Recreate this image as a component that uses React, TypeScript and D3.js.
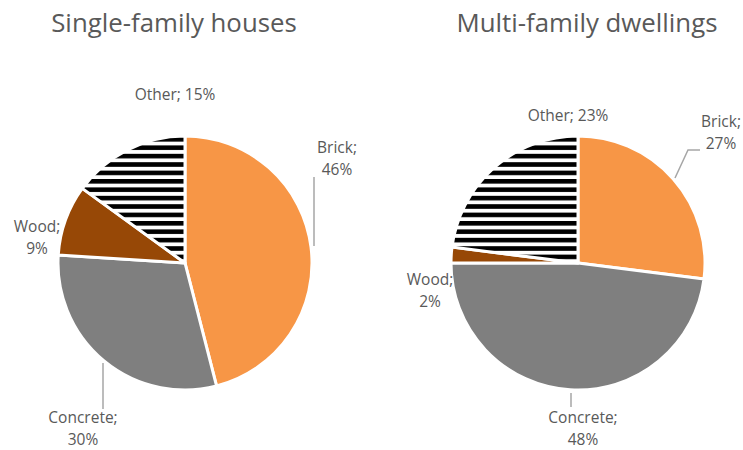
import React from "react";
import * as d3 from "d3";

const categories = ["Brick", "Concrete", "Wood", "Other"];
const singleFamily = [46, 30, 9, 15];
const multiFamily = [27, 48, 2, 23];
const titles = ["Single-family houses", "Multi-family dwellings"];

const colors: Record<string, string> = {
  Brick: "#F79646",
  Concrete: "#7F7F7F",
  Wood: "#974806",
  Other: "url(#stripes)",
};

const W = 743;
const H = 450;
const R = 127;

type LabelLayout = {
  x: number;
  y: number;
  twoLine: boolean;
  leader?: [number, number][];
};

// label layout relative to pie centre
const leftLayout: LabelLayout[] = [
  { x: 152, y: -110, twoLine: true, leader: [[129, -86], [129, -17]] },
  { x: -102, y: 160, twoLine: true, leader: [[-82, 100], [-82, 146]] },
  { x: -148, y: -31, twoLine: true },
  { x: -10, y: -163, twoLine: false },
];
const rightLayout: LabelLayout[] = [
  { x: 143, y: -136, twoLine: true, leader: [[97, -85], [110, -113], [122, -113]] },
  { x: 5, y: 160, twoLine: true, leader: [[-7, 130], [-7, 144]] },
  { x: -148, y: 22, twoLine: true },
  { x: -10, y: -142, twoLine: false },
];

const pies = [
  { title: titles[0], values: singleFamily, cx: 185, cy: 263, titleX: 174, layout: leftLayout },
  { title: titles[1], values: multiFamily, cx: 578, cy: 263, titleX: 587, layout: rightLayout },
];

const textColor = "#595959";
const fontFamily = "'Open Sans', sans-serif";
const labelSize = 15.5;

export default function App() {
  const pie = d3
    .pie<number>()
    .sort(null)
    .value((d) => d)
    .startAngle(0)
    .endAngle(2 * Math.PI);
  const arc = d3.arc<d3.PieArcDatum<number>>().innerRadius(0).outerRadius(R);

  return (
    <svg width={W} height={H} style={{ position: "absolute", left: 0, top: 0, background: "#fff" }}>
      <defs>
        <pattern id="stripes" patternUnits="userSpaceOnUse" width={8} height={8.4}>
          <rect x={0} y={0} width={8} height={8.4} fill="#fff" />
          <rect x={0} y={0} width={8} height={4.6} fill="#000" />
        </pattern>
      </defs>
      {pies.map((p, pi) => {
        const arcs = pie(p.values);
        return (
          <g key={pi}>
            <text
              x={p.titleX}
              y={32}
              textAnchor="middle"
              fontFamily={fontFamily}
              fontSize={25.8}
              fill={textColor}
            >
              {p.title}
            </text>
            <g transform={`translate(${p.cx},${p.cy})`}>
              {arcs.map((a, i) => (
                <path
                  key={i}
                  d={arc(a) || ""}
                  fill={colors[categories[i]]}
                  stroke="#fff"
                  strokeWidth={3}
                  strokeLinejoin="round"
                />
              ))}
              {arcs.map((a, i) => {
                const L = p.layout[i];
                const label = categories[i];
                const pct = `${p.values[i]}%`;
                return (
                  <g key={"l" + i}>
                    {L.leader && (
                      <polyline
                        points={L.leader.map((q) => q.join(",")).join(" ")}
                        fill="none"
                        stroke="#A6A6A6"
                        strokeWidth={1.5}
                      />
                    )}
                    {L.twoLine ? (
                      <text
                        textAnchor="middle"
                        fontFamily={fontFamily}
                        fontSize={labelSize}
                        fill={textColor}
                      >
                        <tspan x={L.x} y={L.y}>{`${label};`}</tspan>
                        <tspan x={L.x} y={L.y + 22}>{pct}</tspan>
                      </text>
                    ) : (
                      <text
                        x={L.x}
                        y={L.y}
                        textAnchor="middle"
                        fontFamily={fontFamily}
                        fontSize={labelSize}
                        fill={textColor}
                      >
                        {`${label}; ${pct}`}
                      </text>
                    )}
                  </g>
                );
              })}
            </g>
          </g>
        );
      })}
    </svg>
  );
}
